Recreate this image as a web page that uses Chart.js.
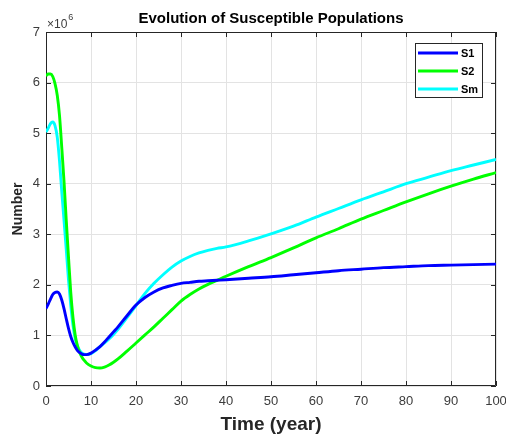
<!DOCTYPE html>
<html><head><meta charset="utf-8">
<script src="https://cdn.jsdelivr.net/npm/chart.js@4/dist/chart.umd.min.js"></script>
<style>html,body{margin:0;padding:0;background:#fff;} #wrap{width:506px;height:437px;position:relative;}</style>
</head><body><div id="wrap"><canvas id="c" width="506" height="437"></canvas></div>
<script>
// ---- data (values in millions, axis carries the ×10^6 factor) ----
const chartTitle = 'Evolution of Susceptible Populations';
const xTitle = 'Time (year)';
const yTitle = 'Number';
const scaleNote = '\u00d710';
const scaleExp = '6';
const seriesLabels = ['S1', 'S2', 'Sm'];
const xTicks = [0, 10, 20, 30, 40, 50, 60, 70, 80, 90, 100];
const yTicks = [0, 1, 2, 3, 4, 5, 6, 7];
const times = [0,0.5,1,1.5,2,2.5,3,3.5,4,4.5,5,5.5,6,6.5,7,7.5,8,8.5,9,
  10,11,12,13,14,15,16,18,20,22,24,26,28,30,32,34,36,38,40,
  45,50,55,60,65,70,75,80,85,90,95,100];
const s1 = [1.53,1.62,1.72,1.81,1.85,1.86,1.82,1.70,1.53,1.33,1.14,0.98,0.86,0.77,0.70,0.66,0.63,0.62,0.62,
  0.65,0.71,0.78,0.87,0.97,1.07,1.17,1.39,1.60,1.75,1.86,1.94,1.99,2.03,2.05,2.07,2.08,2.09,2.10,
  2.13,2.16,2.20,2.24,2.28,2.31,2.34,2.36,2.38,2.39,2.40,2.41];
const s2 = [6.13,6.17,6.17,6.12,5.98,5.75,5.35,4.72,4.05,3.28,2.55,1.85,1.35,1.00,0.79,0.66,0.57,0.505,0.455,
  0.395,0.362,0.355,0.375,0.415,0.47,0.535,0.69,0.85,1.01,1.17,1.34,1.51,1.68,1.81,1.92,2.01,2.09,2.17,
  2.36,2.54,2.73,2.93,3.11,3.30,3.47,3.64,3.80,3.95,4.09,4.22];
const sm = [5.02,5.10,5.19,5.22,5.15,4.92,4.45,3.85,3.28,2.70,2.10,1.60,1.20,0.93,0.79,0.70,0.65,0.63,0.62,
  0.64,0.70,0.78,0.85,0.93,1.02,1.12,1.35,1.59,1.83,2.03,2.20,2.35,2.47,2.56,2.63,2.68,2.72,2.75,
  2.87,3.01,3.16,3.34,3.51,3.68,3.84,4.00,4.13,4.26,4.37,4.48];
const seriesColors = ['#0000ff', '#00ff00', '#00ffff'];

const FONT = "'Liberation Sans', Arial, Helvetica, sans-serif";
const AXIS = '#262626';
const TICKC = '#3c3c3c';
const toPts = arr => times.map((t, i) => ({x: t, y: arr[i]}));
const allSeries = [s1, s2, sm];

const datasets = allSeries.map((arr, i) => ({
  label: seriesLabels[i],
  data: toPts(arr),
  borderColor: seriesColors[i],
  backgroundColor: seriesColors[i],
  borderWidth: 2.9,
  pointRadius: 0,
  fill: false,
  cubicInterpolationMode: 'monotone',
  order: i + 1
}));

const decor = {
  id: 'decor',
  beforeDraw(chart) {
    const ctx = chart.ctx;
    ctx.save(); ctx.fillStyle = '#fff'; ctx.fillRect(0, 0, chart.width, chart.height); ctx.restore();
  },
  beforeDatasetsDraw(chart) {
    const {ctx, chartArea: a, scales: {x, y}} = chart;
    ctx.save();
    ctx.strokeStyle = AXIS; ctx.lineWidth = 1;
    ctx.beginPath();
    ctx.rect(a.left + 0.5, a.top + 0.5, a.right - a.left - 1, a.bottom - a.top - 1);
    ctx.stroke();
    const tl = 5;
    ctx.beginPath();
    xTicks.forEach(v => {
      const px = Math.round(x.getPixelForValue(v)) + 0.5;
      ctx.moveTo(px, a.bottom); ctx.lineTo(px, a.bottom - tl);
      ctx.moveTo(px, a.top); ctx.lineTo(px, a.top + tl);
    });
    yTicks.forEach(v => {
      const py = Math.round(y.getPixelForValue(v)) + 0.5;
      ctx.moveTo(a.left, py); ctx.lineTo(a.left + tl, py);
      ctx.moveTo(a.right, py); ctx.lineTo(a.right - tl, py);
    });
    ctx.stroke();
    ctx.restore();
  },
  afterDraw(chart) {
    const {ctx, chartArea: a} = chart;
    ctx.save();
    // title
    ctx.fillStyle = '#000';
    ctx.font = 'bold 15px ' + FONT;
    ctx.textAlign = 'center'; ctx.textBaseline = 'middle';
    ctx.fillText(chartTitle, (a.left + a.right) / 2, 19);
    // x10^6
    ctx.fillStyle = TICKC;
    ctx.font = '12px ' + FONT;
    ctx.textAlign = 'left'; ctx.textBaseline = 'middle';
    ctx.fillText(scaleNote, a.left + 1, 25);
    const w = ctx.measureText(scaleNote).width;
    ctx.font = '9px ' + FONT;
    ctx.fillText(scaleExp, a.left + 1 + w + 1, 18);
    // legend
    const bx = 415, by = 43, bw = 67, bh = 54;
    ctx.fillStyle = '#fff';
    ctx.fillRect(bx, by, bw, bh);
    ctx.strokeStyle = '#262626'; ctx.lineWidth = 1;
    ctx.strokeRect(bx + 0.5, by + 0.5, bw, bh);
    ctx.font = 'bold 11px ' + FONT;
    ctx.textBaseline = 'middle';
    seriesLabels.forEach((lab, i) => {
      const yy = 53 + i * 18;
      ctx.strokeStyle = seriesColors[i]; ctx.lineWidth = 2.8;
      ctx.beginPath(); ctx.moveTo(418, yy); ctx.lineTo(458, yy); ctx.stroke();
      ctx.fillStyle = '#000';
      ctx.fillText(lab, 461, yy + 0.5);
    });
    ctx.restore();
  }
};

new Chart(document.getElementById('c'), {
  type: 'line',
  data: {datasets},
  options: {
    responsive: false,
    animation: false,
    devicePixelRatio: 1,
    layout: {autoPadding: false, padding: {top: 32, right: 10, left: 0, bottom: 0}},
    plugins: {legend: {display: false}, title: {display: false}, tooltip: {enabled: false}},
    scales: {
      x: {
        type: 'linear', min: 0, max: 100,
        afterFit: s => { s.height = 51; s.paddingLeft = 0; s.paddingRight = 0; },
        afterBuildTicks: s => { s.ticks = xTicks.map(v => ({value: v})); },
        ticks: {color: TICKC, font: {family: FONT, size: 13}, padding: 8, maxRotation: 0},
        grid: {color: '#e3e3e3', lineWidth: 1, drawTicks: false},
        border: {display: false},
        title: {display: true, text: xTitle, color: '#262626', font: {family: FONT, size: 19, weight: 'bold'}, padding: {top: 0, bottom: 1}}
      },
      y: {
        type: 'linear', min: 0, max: 7,
        afterFit: s => { s.width = 46; s.paddingTop = 0; s.paddingBottom = 0; },
        afterBuildTicks: s => { s.ticks = yTicks.map(v => ({value: v})); },
        ticks: {color: TICKC, font: {family: FONT, size: 13}, padding: 6},
        grid: {color: '#e3e3e3', lineWidth: 1, drawTicks: false},
        border: {display: false},
        title: {display: true, text: yTitle, color: '#262626', font: {family: FONT, size: 14, weight: 'bold'}, padding: {top: 10, bottom: 0}}
      }
    }
  },
  plugins: [decor]
});
</script></body></html>
